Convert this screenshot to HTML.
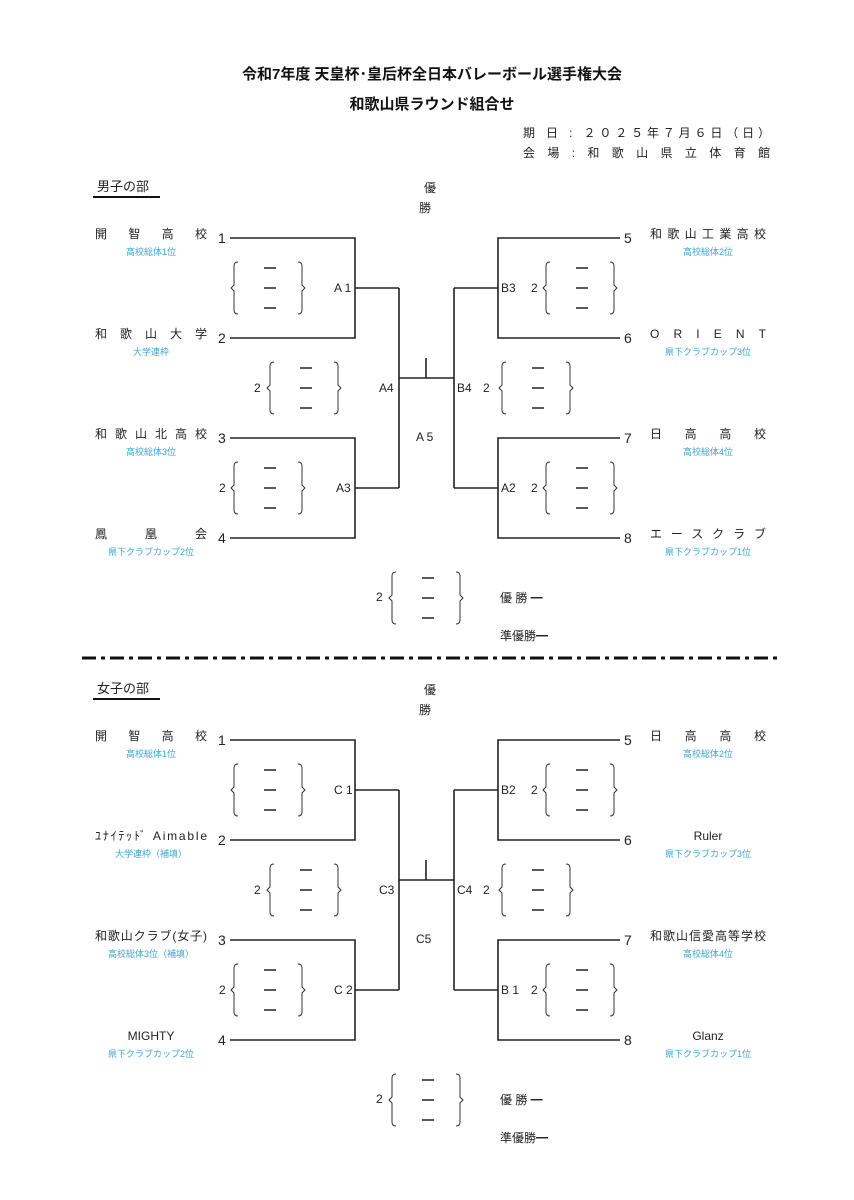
<!DOCTYPE html>
<html><head><meta charset="utf-8"><style>
html,body{margin:0;padding:0;background:#fff;}
svg{display:block;font-family:"Liberation Sans","Noto Sans CJK JP",sans-serif;}
.t{font-size:12px;fill:#222;}
.n{font-size:14px;fill:#222;}
.s{font-size:9px;fill:#3aa7d0;}
.ln{stroke:#222;stroke-width:1.6;fill:none;}
</style></head><body>
<svg width="854" height="1200" viewBox="0 0 854 1200">
<defs>
<symbol id="br" overflow="visible">
<path d="M5,0 Q1,0 1,4 L1,23 L-2,26 L1,29 L1,48 Q1,52 5,52 M65,0 Q69,0 69,4 L69,23 L72,26 L69,29 L69,48 Q69,52 65,52" stroke="#333" stroke-width="1" fill="none"/>
<path d="M31,6 h12 M31,26 h12 M31,46 h12" stroke="#222" stroke-width="1.5"/>
</symbol>
<g id="bk">
<path class="ln" d="M230,238 H355 V338 H230 M355,288 H399 M230,438 H355 V538 H230 M355,488 H399 M399,288 V488 M399,378 H454 M426,358 V378 M454,288 V488 M620,238 H498 V338 H620 M454,288 H498 M620,438 H498 V538 H620 M454,488 H498"/>
<use href="#br" x="233" y="262"/><use href="#br" x="269" y="362"/><use href="#br" x="233" y="462"/>
<use href="#br" x="545" y="262"/><use href="#br" x="501" y="362"/><use href="#br" x="545" y="462"/>
<use href="#br" x="391" y="572"/>
<text class="n" x="218" y="243">1</text><text class="n" x="218" y="343">2</text>
<text class="n" x="218" y="443">3</text><text class="n" x="218" y="543">4</text>
<text class="n" x="624" y="243">5</text><text class="n" x="624" y="343">6</text>
<text class="n" x="624" y="443">7</text><text class="n" x="624" y="543">8</text>
<text class="t" x="254" y="392">2</text><text class="t" x="219" y="492">2</text>
<text class="t" x="531" y="292">2</text><text class="t" x="483" y="392">2</text>
<text class="t" x="531" y="492">2</text><text class="t" x="376" y="601">2</text>
<text class="t" x="424" y="192">優</text><text class="t" x="419" y="212">勝</text>
<text class="t" x="500" y="602">優 勝 ━</text>
<text class="t" x="500" y="640">準優勝━</text>
</g>
</defs>
<text x="432" y="79" text-anchor="middle" style="font-size:15px;font-weight:bold" fill="#111">令和7年度  天皇杯･皇后杯全日本バレーボール選手権大会</text>
<text x="432" y="109" text-anchor="middle" style="font-size:15px;font-weight:bold" fill="#111">和歌山県ラウンド組合せ</text>
<text class="t" x="523" y="137" textLength="247">期 日 :  ２０２５年７月６日（日）</text>
<text class="t" x="523" y="157" textLength="247">会 場 : 和 歌 山 県 立 体 育 館</text>

<path d="M82,658 H780" stroke="#111" stroke-width="3" stroke-dasharray="14,5,4,5"/>

<!-- Men -->
<use href="#bk"/>
<text x="97" y="191" style="font-size:13px" fill="#222">男子の部</text>
<path d="M93,197 H160" stroke="#111" stroke-width="2"/>
<text class="t" x="334" y="292">A 1</text><text class="t" x="336" y="492">A3</text>
<text class="t" x="379" y="392">A4</text><text class="t" x="457" y="392">B4</text>
<text class="t" x="416" y="441">A 5</text>
<text class="t" x="501" y="292">B3</text><text class="t" x="501" y="492">A2</text>
<text class="t" x="95" y="238" textLength="112">開智高校</text><text class="s" x="151" y="255" text-anchor="middle">高校総体1位</text>
<text class="t" x="95" y="338" textLength="112">和歌山大学</text><text class="s" x="151" y="355" text-anchor="middle">大学連枠</text>
<text class="t" x="95" y="438" textLength="112">和歌山北高校</text><text class="s" x="151" y="455" text-anchor="middle">高校総体3位</text>
<text class="t" x="95" y="538" textLength="112">鳳凰会</text><text class="s" x="151" y="555" text-anchor="middle">県下クラブカップ2位</text>
<text class="t" x="650" y="238" textLength="116">和歌山工業高校</text><text class="s" x="708" y="255" text-anchor="middle">高校総体2位</text>
<text class="t" x="650" y="338" textLength="116">ORIENT</text><text class="s" x="708" y="355" text-anchor="middle">県下クラブカップ3位</text>
<text class="t" x="650" y="438" textLength="116">日高高校</text><text class="s" x="708" y="455" text-anchor="middle">高校総体4位</text>
<text class="t" x="650" y="538" textLength="116">エースクラブ</text><text class="s" x="708" y="555" text-anchor="middle">県下クラブカップ1位</text>

<!-- Women -->
<use href="#bk" y="502"/>
<text x="97" y="693" style="font-size:13px" fill="#222">女子の部</text>
<path d="M93,699 H160" stroke="#111" stroke-width="2"/>
<text class="t" x="334" y="794">C 1</text><text class="t" x="334" y="994">C 2</text>
<text class="t" x="379" y="894">C3</text><text class="t" x="457" y="894">C4</text>
<text class="t" x="416" y="943">C5</text>
<text class="t" x="501" y="794">B2</text><text class="t" x="501" y="994">B 1</text>
<text class="t" x="95" y="740" textLength="112">開智高校</text><text class="s" x="151" y="757" text-anchor="middle">高校総体1位</text>
<text class="t" x="95" y="840" textLength="112">ﾕﾅｲﾃｯﾄﾞ Aimable</text><text class="s" x="151" y="857" text-anchor="middle">大学連枠（補填）</text>
<text class="t" x="95" y="940" textLength="112">和歌山クラブ(女子)</text><text class="s" x="151" y="957" text-anchor="middle">高校総体3位（補填）</text>
<text class="t" x="151" y="1040" text-anchor="middle">MIGHTY</text><text class="s" x="151" y="1057" text-anchor="middle">県下クラブカップ2位</text>
<text class="t" x="650" y="740" textLength="116">日高高校</text><text class="s" x="708" y="757" text-anchor="middle">高校総体2位</text>
<text class="t" x="708" y="840" text-anchor="middle">Ruler</text><text class="s" x="708" y="857" text-anchor="middle">県下クラブカップ3位</text>
<text class="t" x="650" y="940" textLength="116">和歌山信愛高等学校</text><text class="s" x="708" y="957" text-anchor="middle">高校総体4位</text>
<text class="t" x="708" y="1040" text-anchor="middle">Glanz</text><text class="s" x="708" y="1057" text-anchor="middle">県下クラブカップ1位</text>
</svg>
</body></html>
